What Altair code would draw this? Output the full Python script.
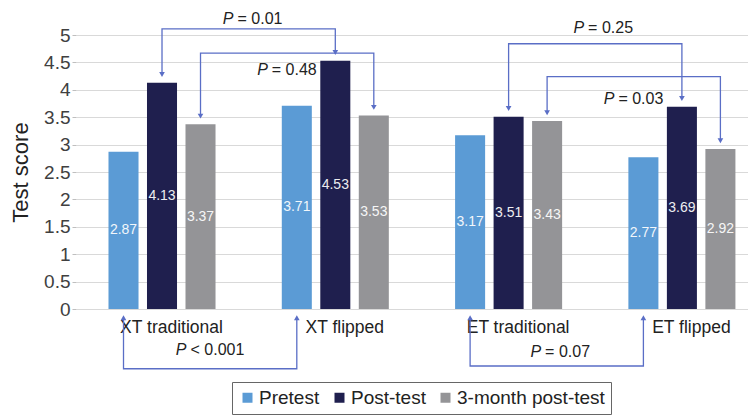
import altair as alt
import pandas as pd

groups = ["XT traditional", "XT flipped", "ET traditional", "ET flipped"]
series = ["Pretest", "Post-test", "3-month post-test"]
pretest = [2.87, 3.71, 3.17, 2.77]
post_test = [4.13, 4.53, 3.51, 3.69]
month3 = [3.37, 3.53, 3.43, 2.92]
colors = ["#5b9bd5", "#1f1f4e", "#949497"]
y_ticks = [0, 0.5, 1, 1.5, 2, 2.5, 3, 3.5, 4, 4.5, 5]

# comparisons (P values) between groups
cmp_text = ["= 0.01", "= 0.48", "= 0.25", "= 0.03", "< 0.001", "= 0.07"]
cmp_series = ["Post-test", "3-month post-test", "Post-test", "3-month post-test", "Pretest", "Pretest"]
cmp_from = ["XT traditional", "XT traditional", "ET traditional", "ET traditional", "XT traditional", "ET traditional"]
cmp_to = ["XT flipped", "XT flipped", "ET flipped", "ET flipped", "XT flipped", "ET flipped"]
cmp_level = [5.11, 4.67, 4.84, 4.24, -1.09, -1.04]
cmp_text_y = [5.29, 4.36, 5.13, 3.84, -0.75, -0.78]
cmp_text_group = ["XT traditional", "XT flipped", "ET traditional", "ET flipped", "XT traditional", "ET traditional"]
cmp_text_series = ["3-month post-test", "Pretest", "3-month post-test", "Pretest", "3-month post-test", "3-month post-test"]
cmp_text_dx = [33, -29, 37, -29, -14, -6]

ARROW = "#5a6ec6"
FONT = "Liberation Sans"
GAP_TOP = 0.15
TIP_BOTTOM = -0.16

values = {"Pretest": pretest, "Post-test": post_test, "3-month post-test": month3}
rows = []
for s in series:
    for g, v in zip(groups, values[s]):
        rows.append({"group": g, "series": s, "value": v})
bars_df = pd.DataFrame(rows)


def val(g, s):
    return values[s][groups.index(g)]


path_rows, head_rows = [], []
for i in range(len(cmp_text)):
    s, a, b, lev = cmp_series[i], cmp_from[i], cmp_to[i], cmp_level[i]
    if lev > 0:
        ya, yb, d = val(a, s) + GAP_TOP, val(b, s) + GAP_TOP, "down"
    else:
        ya, yb, d = TIP_BOTTOM, TIP_BOTTOM, "up"
    pts = [(a, ya), (a, lev), (b, lev), (b, yb)]
    for k, (g, y) in enumerate(pts):
        path_rows.append({"id": i, "ord": k, "group": g, "series": s, "value": y})
    head_rows.append({"group": a, "series": s, "value": ya, "dir": d})
    head_rows.append({"group": b, "series": s, "value": yb, "dir": d})
path_df = pd.DataFrame(path_rows)
head_df = pd.DataFrame(head_rows)

xscale = alt.Scale(domain=groups, paddingInner=0.3335, paddingOuter=0.1056, align=0.772, round=False)
xoff = alt.Scale(domain=series, paddingInner=0.22, paddingOuter=0.11, round=False)
yscale = alt.Scale(domain=[0, 5], nice=False)

X = alt.X("group:N", scale=xscale, sort=groups,
          axis=alt.Axis(title=None, labelAngle=0, labelFontSize=17.5, labelColor="#222222",
                        ticks=False, domain=False, labelPadding=9, labelOffset=9.5, grid=False))
XO = alt.XOffset("series:N", scale=xoff, sort=series)
YAXIS = alt.Axis(values=y_ticks, format="~g", labelFontSize=19, labelColor="#404040",
                 labelOverlap=False, tickColor="#bfbfbf", tickSize=4, domain=False,
                 grid=True, gridColor="#d9d9d9", title="Test score", titleFontSize=22,
                 titleFontWeight="normal", titleColor="#222222", titlePadding=11,
                 labelPadding=2)
Y = alt.Y("value:Q", scale=yscale, axis=YAXIS)

bars = alt.Chart(bars_df).mark_bar().encode(
    x=X, xOffset=XO, y=Y,
    color=alt.Color("series:N", sort=series,
                    scale=alt.Scale(domain=series, range=colors),
                    legend=alt.Legend(title=None, orient="none", legendX=156, legendY=347,
                                      direction="horizontal", symbolType="square",
                                      symbolSize=100, labelFontSize=19, labelColor="#222222",
                                      columnPadding=10, labelOffset=2, padding=6,
                                      strokeColor="#666666", fillColor="white",
                                      symbolStrokeWidth=0)),
)

bar_labels = alt.Chart(bars_df).transform_calculate(mid="datum.value / 2").mark_text(
    color="white", fontSize=14, opacity=0.92, baseline="middle"
).encode(x=X, xOffset=XO, y=alt.Y("mid:Q", scale=yscale, axis=YAXIS),
         text=alt.Text("value:Q", format=".2f"))

paths = alt.Chart(path_df).mark_line(color=ARROW, strokeWidth=1.3).encode(
    x=X, xOffset=XO, y=Y, detail="id:N", order="ord:Q"
)

heads = alt.Chart(head_df).mark_point(filled=True, color=ARROW, size=32, opacity=1).encode(
    x=X, xOffset=XO, y=Y,
    shape=alt.Shape("dir:N", scale=alt.Scale(domain=["down", "up"],
                                             range=["triangle-down", "triangle-up"]), legend=None),
)

layers = [bars, bar_labels, paths, heads]
for i in range(len(cmp_text)):
    tdf = pd.DataFrame([{"group": cmp_text_group[i], "series": cmp_text_series[i],
                         "value": cmp_text_y[i], "t": cmp_text[i]}])
    base = alt.Chart(tdf)
    p = base.mark_text(text="P", fontStyle="italic", fontSize=16, align="right",
                       baseline="middle", dx=cmp_text_dx[i], color="#222222").encode(
        x=X, xOffset=XO, y=Y)
    r = base.mark_text(fontSize=16, align="left", baseline="middle",
                       dx=cmp_text_dx[i] + 4, color="#222222").encode(
        x=X, xOffset=XO, y=Y, text="t:N")
    layers += [p, r]

chart = alt.layer(*layers).properties(
    width=672, height=274,
    autosize=alt.AutoSizeParams(type="none"),
    padding={"left": 68, "top": 27, "right": 0, "bottom": 107},
).configure(font=FONT).configure_view(stroke=None)

chart.save("out.html", embed_options={"renderer": "svg", "actions": False})
